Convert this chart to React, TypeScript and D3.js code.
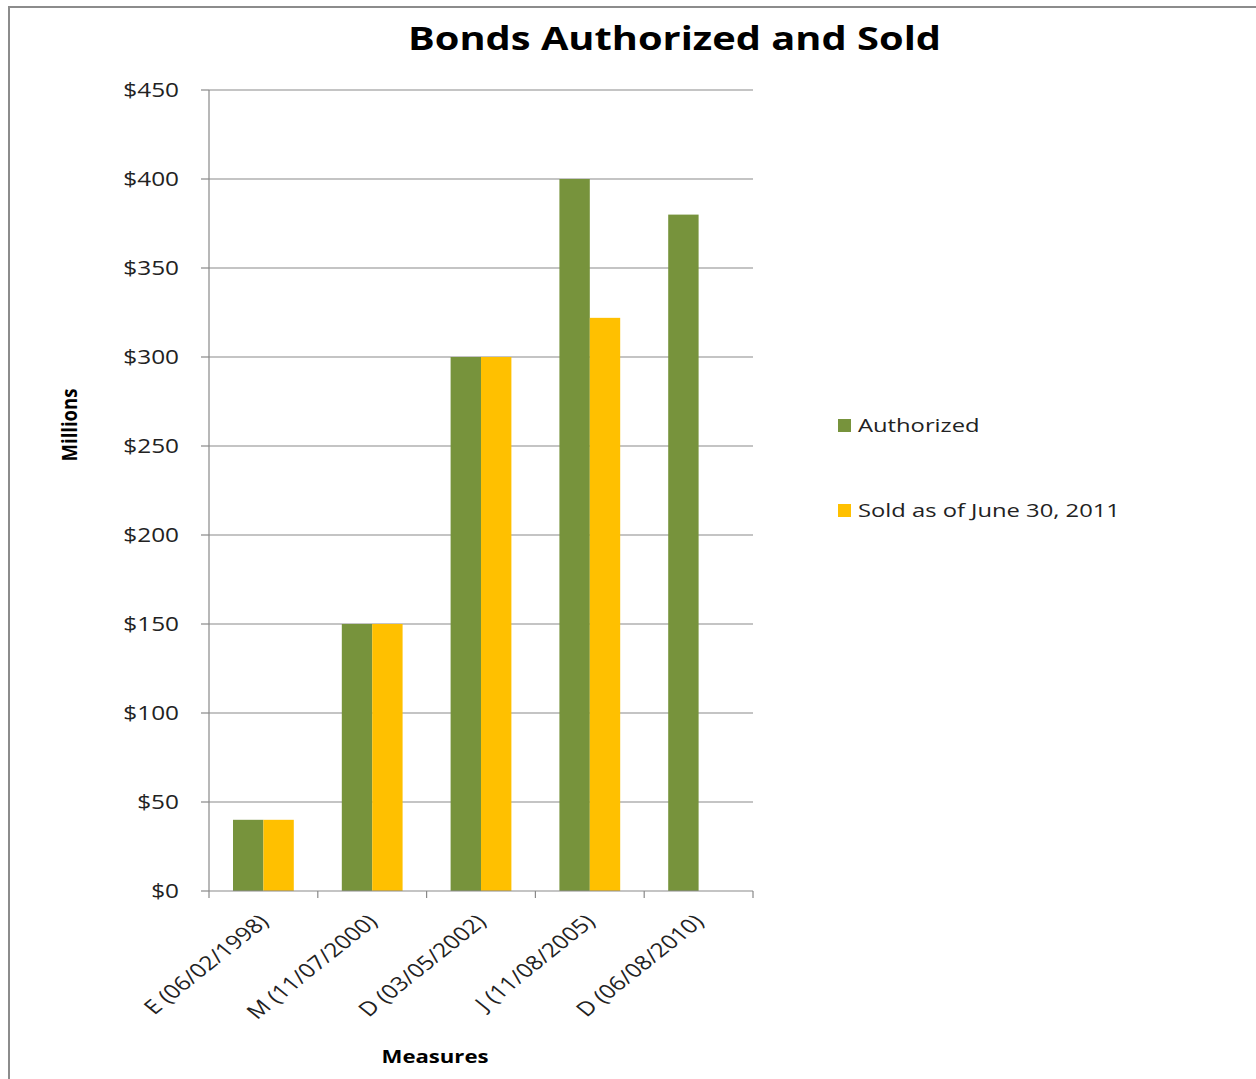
import React from "react";
import * as d3 from "d3";

const categories = ["E (06/02/1998)", "M (11/07/2000)", "D (03/05/2002)", "J (11/08/2005)", "D (06/08/2010)"];
const authorized = [40, 150, 300, 400, 380];
const sold: (number | null)[] = [40, 150, 300, 322, null];
const yTicks = [0, 50, 100, 150, 200, 250, 300, 350, 400, 450];
const seriesNames = ["Authorized", "Sold as of June 30, 2011"];
const colors = ["#77933C", "#FFC000"];

const FONT = "'Open Sans', sans-serif";
const SX = 1.25;

export default function App() {
  const left = 209, right = 753, top = 90, bottom = 891;
  const y = d3.scaleLinear().domain([0, 450]).range([bottom, top]);
  const x = d3.scaleBand<string>().domain(categories).range([left, right]).paddingInner(0).paddingOuter(0);
  const bw = x.bandwidth();
  const inner = d3.scaleBand<string>().domain(["a", "s"]).range([0, bw]).paddingInner(0).paddingOuter(0.79);
  const grid = "#898989";

  return (
    <svg width={1256} height={1079} style={{ position: "absolute", left: 0, top: 0, background: "#fff" }}>
      <rect x={9} y={7} width={1300} height={1100} fill="none" stroke="#8c8c8c" strokeWidth={2} />
      <text x={674.5} y={50} textAnchor="middle" fontFamily={FONT} fontWeight={700} fontSize={33} fill="#000" textLength={533} lengthAdjust="spacingAndGlyphs">
        Bonds Authorized and Sold
      </text>
      {yTicks.map((t) => (
        <g key={t}>
          {t > 0 && <line x1={left} x2={right} y1={y(t)} y2={y(t)} stroke={grid} strokeWidth={1.2} />}
          <line x1={left - 8} x2={left} y1={y(t)} y2={y(t)} stroke={grid} strokeWidth={1.2} />
          <text transform={`translate(179,${y(t) + 7}) scale(${SX},1)`} textAnchor="end" fontFamily={FONT} fontSize={19.5} fill="#222">
            {d3.format("$,")(t)}
          </text>
        </g>
      ))}
      <line x1={left} x2={left} y1={top} y2={bottom} stroke={grid} strokeWidth={1.2} />
      {categories.map((c, i) => (
        <g key={c}>
          <rect x={x(c)! + inner("a")!} y={y(authorized[i])} width={inner.bandwidth()} height={bottom - y(authorized[i])} fill={colors[0]} />
          {sold[i] != null && (
            <rect x={x(c)! + inner("s")!} y={y(sold[i] as number)} width={inner.bandwidth()} height={bottom - y(sold[i] as number)} fill={colors[1]} />
          )}
        </g>
      ))}
      <line x1={left} x2={right} y1={bottom} y2={bottom} stroke={grid} strokeWidth={1.2} />
      {d3.range(categories.length + 1).map((i) => {
        const xx = left + i * bw;
        return <line key={i} x1={xx} x2={xx} y1={bottom} y2={bottom + 7} stroke={grid} strokeWidth={1.2} />;
      })}
      {categories.map((c) => {
        const cx = x(c)! + bw / 2 - 6;
        const cy = bottom + 22;
        return (
          <text key={c} transform={`translate(${cx},${cy}) scale(${SX},1) rotate(-45)`} textAnchor="end" dy="0.72em" fontFamily={FONT} fontSize={19.5} fill="#222">
            {c}
          </text>
        );
      })}
      <text transform={`translate(435,1063) scale(1.23,1)`} textAnchor="middle" fontFamily={FONT} fontWeight={700} fontSize={18} fill="#000">
        Measures
      </text>
      <text transform={`translate(77,425) scale(1.2,1) rotate(-90)`} textAnchor="middle" fontFamily={FONT} fontWeight={700} fontSize={18.5} fill="#000">
        Millions
      </text>
      {seriesNames.map((n, i) => (
        <g key={n} transform={`translate(838,${419 + i * 85})`}>
          <rect x={0} y={0} width={13} height={13} fill={colors[i]} />
          <text transform={`translate(20,13) scale(1.25,1)`} fontFamily={FONT} fontSize={19} fill="#222">{n}</text>
        </g>
      ))}
    </svg>
  );
}
